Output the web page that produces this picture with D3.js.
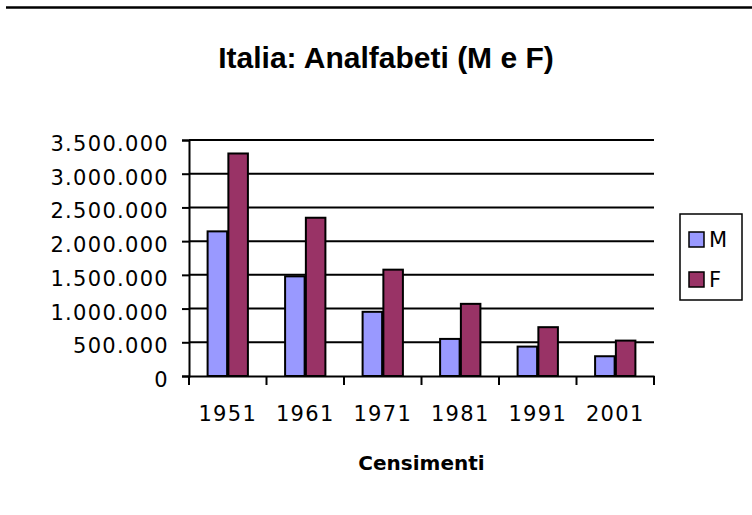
<!DOCTYPE html>
<html>
<head>
<meta charset="utf-8">
<script src="https://cdn.jsdelivr.net/npm/d3@7"></script>
<style>
  body { margin: 0; background: #fff; }
  svg { display: block; }
  text { font-family: "DejaVu Sans", sans-serif; fill: #000; }
</style>
</head>
<body>
<script>
// censimenti e analfabeti
var anni = ["1951", "1961", "1971", "1981", "1991", "2001"];
var serie = ["M", "F"];
var maschi = [2145000, 1478000, 952000, 550000, 436000, 293000];
var femmine = [3300000, 2347000, 1577000, 1070000, 724000, 525000];
var yTicks = [0, 500000, 1000000, 1500000, 2000000, 2500000, 3000000, 3500000];
var colori = {M: "#9999ff", F: "#993366"};

var W = 752, H = 515;
var margin = {top: 140, right: 98, bottom: 139, left: 189},
    width = W - margin.left - margin.right,
    height = H - margin.top - margin.bottom;

var it = d3.formatLocale({decimal: ",", thousands: ".", grouping: [3], currency: ["", " €"]});
var fmt = it.format(",d");

var svg = d3.select("body").append("svg")
    .attr("width", W).attr("height", H);

// linea in alto
svg.append("line")
    .attr("x1", 6).attr("x2", W).attr("y1", 7.5).attr("y2", 7.5)
    .attr("stroke", "#000").attr("stroke-width", 2.5);

svg.append("text")
    .attr("x", 386).attr("y", 68)
    .attr("text-anchor", "middle")
    .style("font-family", "'Liberation Sans', Arial, sans-serif")
    .style("font-weight", "bold").style("font-size", "30px")
    .text("Italia: Analfabeti (M e F)");

var g = svg.append("g")
    .attr("transform", "translate(" + margin.left + "," + margin.top + ")");

var x = d3.scaleBand().domain(anni).range([0, width]);
var x1 = d3.scaleBand().domain(serie)
    .range([x.bandwidth() * 0.24, x.bandwidth() * 0.76]).paddingInner(0.06);
var y = d3.scaleLinear().domain([0, 3500000]).range([height, 0]);

// griglia
g.append("g").selectAll("line").data(yTicks.slice(1)).enter().append("line")
    .attr("x1", 0).attr("x2", width)
    .attr("y1", function(d){ return y(d); }).attr("y2", function(d){ return y(d); })
    .attr("stroke", "#000").attr("stroke-width", 2);

var rows = anni.map(function(a, i){ return {anno: a, M: maschi[i], F: femmine[i]}; });

var gruppi = g.selectAll(".gruppo").data(rows).enter().append("g")
    .attr("class", "gruppo")
    .attr("transform", function(d){ return "translate(" + x(d.anno) + ",0)"; });

gruppi.selectAll("rect")
    .data(function(d){ return serie.map(function(s){ return {s: s, v: d[s]}; }); })
    .enter().append("rect")
    .attr("x", function(d){ return x1(d.s); })
    .attr("width", x1.bandwidth())
    .attr("y", function(d){ return y(d.v); })
    .attr("height", function(d){ return height - y(d.v); })
    .attr("fill", function(d){ return colori[d.s]; })
    .attr("stroke", "#000").attr("stroke-width", 2);

// asse y
var yAxis = g.append("g")
    .call(d3.axisLeft(y).tickValues(yTicks).tickFormat(fmt).tickSize(7).tickPadding(13));
yAxis.select(".domain").attr("stroke-width", 2);
yAxis.selectAll(".tick line").attr("stroke-width", 2);
yAxis.selectAll("text").style("font-size", "21px").style("letter-spacing", "1.3px")
    .attr("font-family", null).attr("dy", "0.5em");

// asse x
var xAxis = g.append("g")
    .attr("transform", "translate(0," + height + ")")
    .call(d3.axisBottom(x).tickSize(0));
xAxis.select(".domain").attr("stroke-width", 2);
xAxis.selectAll("text").style("font-size", "21px").style("letter-spacing", "1.3px")
    .attr("font-family", null).attr("y", 45).attr("dy", null);
xAxis.selectAll(".sep").data(anni.concat(["fine"])).enter().append("line")
    .attr("class", "sep")
    .attr("x1", function(d, i){ return i * x.bandwidth(); })
    .attr("x2", function(d, i){ return i * x.bandwidth(); })
    .attr("y1", 0).attr("y2", 9)
    .attr("stroke", "#000").attr("stroke-width", 2);

svg.append("text")
    .attr("x", margin.left + width / 2).attr("y", 470)
    .attr("text-anchor", "middle")
    .style("font-weight", "bold").style("font-size", "20px")
    .text("Censimenti");

// legenda
var leg = svg.append("g").attr("transform", "translate(680,214)");
leg.append("rect").attr("width", 62).attr("height", 86)
    .attr("fill", "#fff").attr("stroke", "#000").attr("stroke-width", 1.5);
var voci = leg.selectAll(".voce").data(serie).enter().append("g")
    .attr("transform", function(d, i){ return "translate(9," + (18 + i * 40) + ")"; });
voci.append("rect").attr("width", 15).attr("height", 15)
    .attr("fill", function(d){ return colori[d]; })
    .attr("stroke", "#000").attr("stroke-width", 1.5);
voci.append("text").attr("x", 20).attr("y", 15)
    .style("font-size", "21px")
    .text(function(d){ return d; });
</script>
</body>
</html>
